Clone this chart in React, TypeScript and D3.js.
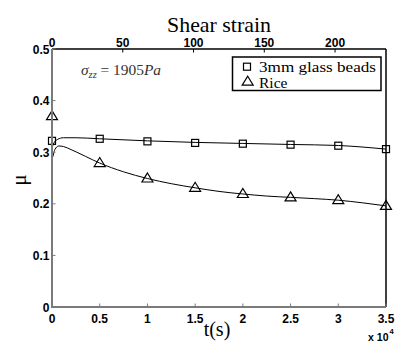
import React from "react";
import * as d3 from "d3";

const W = 395;
const H = 343;
const M = { left: 52, right: 386, top: 49, bottom: 307 };

const xTicks = [0, 5000, 10000, 15000, 20000, 25000, 30000, 35000];
const xTickLabels = ["0", "0.5", "1", "1.5", "2", "2.5", "3", "3.5"];
const yTicks = [0, 0.1, 0.2, 0.3, 0.4, 0.5];
const yTickLabels = ["0", "0.1", "0.2", "0.3", "0.4", "0.5"];
const strainTicks = [0, 50, 100, 150, 200];
const strainMax = 236;

// markers
const markerT = [0, 5000, 10000, 15000, 20000, 25000, 30000, 35000];
const beadsMarkers = [0.322, 0.326, 0.321, 0.318, 0.3165, 0.3146, 0.3126, 0.306];
const riceMarkers = [0.37, 0.279, 0.249, 0.231, 0.219, 0.2125, 0.207, 0.196];

// continuous curves
const beadsLineT = [0, 200, 600, 1200, 2500, 5000, 10000, 15000, 20000, 25000, 30000, 35000];
const beadsLineMu = [0.308, 0.318, 0.325, 0.328, 0.328, 0.326, 0.322, 0.319, 0.317, 0.315, 0.313, 0.306];
const riceLineT = [0, 30, 300, 700, 1200, 2000, 2600, 3500, 5000, 7500, 10000, 12500, 15000, 17500, 20000, 22500, 25000, 27500, 30000, 32500, 35000];
const riceLineMu = [0.39, 0.29, 0.305, 0.312, 0.311, 0.305, 0.3, 0.292, 0.279, 0.262, 0.249, 0.239, 0.231, 0.224, 0.219, 0.215, 0.2125, 0.21, 0.207, 0.202, 0.196];

const legendLabels = ["3mm glass beads", "Rice"];

export default function App() {
  const x = d3.scaleLinear().domain([0, 35000]).range([M.left, M.right]);
  const y = d3.scaleLinear().domain([0, 0.5]).range([M.bottom, M.top]);
  const xs = d3.scaleLinear().domain([0, strainMax]).range([M.left, M.right]);

  const line = d3
    .line<[number, number]>()
    .x((d) => x(d[0]))
    .y((d) => y(d[1]))
    .curve(d3.curveMonotoneX);

  const beadsPath = line(beadsLineT.map((t, i) => [t, beadsLineMu[i]]));
  const ricePath = line(riceLineT.map((t, i) => [t, riceLineMu[i]]));

  const sq = (cx: number, cy: number, key: any) => (
    <rect key={key} x={cx - 3.5} y={cy - 3.5} width={7} height={7} fill="none" stroke="#000" strokeWidth={1.2} />
  );
  const tri = (cx: number, cy: number, key: any) => (
    <path
      key={key}
      d={`M${cx},${cy - 5.5} L${cx + 5.5},${cy + 3.5} L${cx - 5.5},${cy + 3.5} Z`}
      fill="none"
      stroke="#000"
      strokeWidth={1.2}
    />
  );

  const tickFont = { fontFamily: "Liberation Sans, Arial, sans-serif", fontWeight: 700, fontSize: 12 } as const;
  const serif = "Liberation Serif, Times New Roman, serif";
  const gray = "#7a7a7a";

  return (
    <svg width={W} height={H} style={{ position: "absolute", left: 0, top: 0, background: "#fff" }}>
      <rect x={0} y={0} width={W} height={H} fill="#fff" />
      {/* top & right frame */}
      <line x1={M.left} x2={M.right} y1={M.top} y2={M.top} stroke="#000" strokeWidth={1.5} />
      <line x1={M.right} x2={M.right} y1={M.top} y2={M.bottom} stroke="#000" strokeWidth={1.5} />

      {/* top ticks */}
      {strainTicks.map((s, i) => (
        <g key={"st" + i}>
          <line x1={xs(s)} x2={xs(s)} y1={M.top} y2={M.top + 3.5} stroke="#000" strokeWidth={1} />
          <text x={xs(s)} y={46.5} textAnchor="middle" {...tickFont}>
            {s}
          </text>
        </g>
      ))}
      <text x={219} y={31.5} textAnchor="middle" fontFamily={serif} fontSize={21} textLength={104} lengthAdjust="spacingAndGlyphs">
        Shear strain
      </text>

      {/* curves */}
      <path d={beadsPath || ""} fill="none" stroke="#000" strokeWidth={1} />
      <path d={ricePath || ""} fill="none" stroke="#000" strokeWidth={1} />
      {markerT.map((t, i) => sq(x(t), y(beadsMarkers[i]), "b" + i))}
      {markerT.map((t, i) => tri(x(t), y(riceMarkers[i]), "r" + i))}

      {/* left & bottom axes (gray) */}
      <line x1={M.left} x2={M.left} y1={M.top} y2={M.bottom + 1} stroke={gray} strokeWidth={2} />
      <line x1={M.left - 1} x2={M.right} y1={M.bottom} y2={M.bottom} stroke={gray} strokeWidth={2} />
      {yTicks.map((v, i) => (
        <g key={"yt" + i}>
          <line x1={M.left} x2={M.left + 3.5} y1={y(v)} y2={y(v)} stroke={gray} strokeWidth={1} />
          <text x={49.5} y={y(v) + 4.5} textAnchor="end" {...tickFont}>
            {yTickLabels[i]}
          </text>
        </g>
      ))}
      {xTicks.map((v, i) => (
        <g key={"xt" + i}>
          <line x1={x(v)} x2={x(v)} y1={M.bottom} y2={M.bottom - 3.5} stroke={gray} strokeWidth={1} />
          <text x={x(v)} y={323} textAnchor="middle" {...tickFont}>
            {xTickLabels[i]}
          </text>
        </g>
      ))}
      <text x={368} y={341} {...tickFont} fontSize={11} textLength={20.5} lengthAdjust="spacingAndGlyphs">
        x 10
      </text>
      <text x={389.5} y={334} {...tickFont} fontSize={7.5}>
        4
      </text>

      {/* axis labels */}
      <text x={217} y={336} textAnchor="middle" fontFamily={serif} fontSize={20}>
        t(s)
      </text>
      <text transform="translate(26,180) rotate(-90)" textAnchor="middle" fontFamily={serif} fontSize={21}>
        μ
      </text>

      {/* annotation */}
      <text x={81} y={75} fontFamily={serif} fontStyle="italic" fontSize={14} fill="#333" textLength={80} lengthAdjust="spacingAndGlyphs">
        σ
        <tspan fontSize={9.5} dy={2.5}>zz</tspan>
        <tspan fontStyle="normal" fontSize={14} dy={-2.5}> = 1905</tspan>
        <tspan>Pa</tspan>
      </text>

      {/* legend */}
      <rect x={232.5} y={57} width={148.5} height={33.5} fill="#fff" stroke="#000" strokeWidth={1.5} />
      {sq(247, 66.7, "lb")}
      {tri(247.7, 81.7, "lr")}
      <text x={259} y={72} fontFamily={serif} fontSize={15.5} textLength={117} lengthAdjust="spacingAndGlyphs">
        {legendLabels[0]}
      </text>
      <text x={259} y={88} fontFamily={serif} fontSize={15.5}>
        {legendLabels[1]}
      </text>
    </svg>
  );
}
